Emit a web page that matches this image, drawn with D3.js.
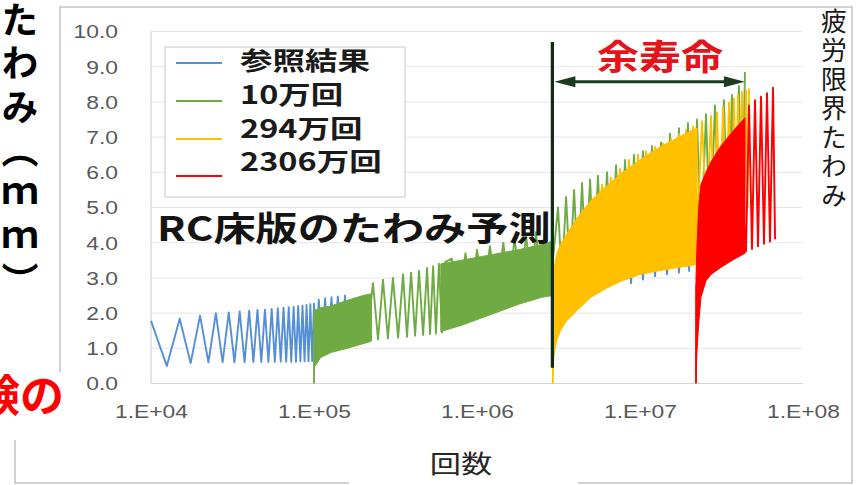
<!DOCTYPE html>
<html><head><meta charset="utf-8">
<script src="https://cdn.jsdelivr.net/npm/d3@7/dist/d3.min.js"></script>
<style>html,body{margin:0;padding:0;background:#fff}svg{display:block}</style>
</head><body>
<svg id="chart" width="856" height="485"></svg>
<script>
// ---------------- data ----------------
const xTicks = [1e4, 1e5, 1e6, 1e7, 1e8];
const xTickLabels = ["1.E+04", "1.E+05", "1.E+06", "1.E+07", "1.E+08"];
const yTicks = [0, 1, 2, 3, 4, 5, 6, 7, 8, 9, 10];
const yTickLabels = ["0.0","1.0","2.0","3.0","4.0","5.0","6.0","7.0","8.0","9.0","10.0"];
const seriesNames = ["参照結果", "10万回", "294万回", "2306万回"];
const xTitle = "回数";
const yTitle = "たわみ（ｍｍ）";
const limitTitle = "疲労限界たわみ";

// 参照結果 (reference result)
const refN = [10000,12500,15000,17500,20000,22500,25000,27500,30000,32500,35000,37500,40000,42500,45000,47500,50000,52500,55000,57500,60000,62500,65000,67500,70000,72500,75000,77500,80000,82500,85000,87500,90000,92500,95000,97500,100000,
  103000,107000,112000,117000,122000,128000,134000,140000,147000,155000,162000];
const refV = [1.78,0.50,1.84,0.58,1.93,0.60,2.00,0.60,2.02,0.60,2.05,0.60,2.07,0.61,2.09,0.61,2.10,0.61,2.12,0.61,2.14,0.62,2.15,0.62,2.17,0.62,2.18,0.62,2.20,0.63,2.21,0.63,2.23,0.63,2.25,0.64,2.27,
  1.0,2.38,1.05,2.42,1.1,2.45,1.1,2.47,1.15,2.5,1.2];
const refTipN = [8.2e6,8.81e6,9.59e6,1.043e7,1.135e7,1.236e7,1.345e7,1.465e7,1.593e7,1.734e7,1.888e7,2.0e7,2.114e7];
const refTipV = [5.0,2.85,5.2,2.95,5.3,3.05,5.4,3.1,5.5,3.15,5.6,3.2,5.7];

// 10万回
const g10BandN = [1.0e5,1.1e5,1.27e5,1.57e5,2.0e5,2.25e5];
const g10BandLo = [0.45,0.74,0.88,0.99,1.13,1.2];
const g10BandHi = [2.07,2.15,2.2,2.35,2.5,2.55];
const g10Band2N = [6.0e5,8.0e5,1.2e6,1.8e6,2.5e6,2.93e6];
const g10Band2Lo = [1.48,1.65,1.95,2.25,2.45,2.5];
const g10Band2Hi = [3.4,3.5,3.65,3.8,3.95,4.05];
const g10N = [1.0e5,1.005e5,2.11e5,2.30e5,2.47e5,2.65e5,2.84e5,3.05e5,3.28e5,3.52e5,3.72e5,3.94e5,4.17e5,4.41e5,4.67e5,4.94e5,5.15e5,5.38e5,5.6e5,5.84e5,6.1e5,6.36e5,
  7.0e5,7.7e5,8.5e5,9.2e5,1.0e6,1.1e6,1.2e6,1.32e6,1.45e6,1.57e6,1.7e6,1.85e6,2.0e6,2.15e6,2.3e6,2.45e6,2.6e6,2.8e6,
  3.14e6,3.32e6,3.52e6,3.72e6,3.94e6,4.17e6,4.41e6,4.66e6,4.94e6,5.22e6,5.52e6,5.85e6,6.28e6,6.64e6,7.13e6,7.54e6,8.10e6,8.56e6,9.19e6,9.72e6,
  1.043e7,1.104e7,1.185e7,1.254e7,1.345e7,1.424e7,1.528e7,1.617e7,1.734e7,1.835e7,1.968e7,2.084e7,2.239e7,2.366e7,2.541e7,2.688e7,2.884e7,3.053e7,3.273e7,3.466e7,3.664e7,3.826e7,4.046e7,4.225e7,4.404e7];
const g10V = [0,2.05,1.2,2.85,1.25,2.95,1.28,3.0,1.3,3.1,1.33,3.15,1.36,3.2,1.38,3.28,1.4,3.33,1.42,3.4,1.45,3.45,
  3.55,2.3,3.7,2.4,3.8,2.5,3.9,2.6,4.0,2.7,4.1,2.8,4.2,2.9,4.3,3.0,4.4,2.6,
  5.0,3.0,5.3,3.1,5.5,3.2,5.7,3.3,5.8,3.35,5.9,3.4,6.0,3.5,6.2,3.55,6.35,3.6,6.5,3.65,
  6.6,3.7,6.75,3.75,6.85,3.8,7.1,3.85,7.25,3.9,7.4,3.95,7.5,4.0,7.65,4.05,7.9,4.1,8.05,4.15,8.2,4.2,8.45,4.25,8.85];

// 294万回
const o294BandN = [2.92e6,2.96e6,3.0e6,3.1e6,3.25e6,3.5e6,4.2e6,5.0e6,6.2e6,7.6e6,1.0e7,1.3e7,1.73e7,2.1e7,2.24e7];
const o294BandLo = [0.3,0.7,0.95,1.25,1.5,1.75,2.12,2.45,2.7,2.9,3.1,3.2,3.3,3.35,3.4];
const o294BandHi = [2.8,3.2,3.4,3.7,3.95,4.2,4.75,5.2,5.6,5.95,6.35,6.7,7.0,7.2,7.25];
const o294N = [2.92e6,2.94e6,5.4e6,5.85e6,6.23e6,6.64e6,7.07e6,7.54e6,8.03e6,8.56e6,9.12e6,9.72e6,1.029e7,1.088e7,1.16e7,1.236e7,1.308e7,1.384e7,1.464e7,1.55e7,1.64e7,1.735e7,1.823e7,1.915e7,2.012e7,2.115e7,
  2.253e7,2.401e7,2.559e7,2.727e7,2.844e7,2.968e7,3.097e7,3.23e7,3.371e7,3.516e7,3.641e7,3.773e7,3.882e7,3.992e7,4.107e7,4.225e7,4.345e7,4.47e7,4.566e7,4.665e7];
const o294V = [0,2.8,3.8,5.65,3.8,5.85,3.9,6.1,4.0,6.35,4.1,6.5,4.2,6.6,4.25,6.72,4.3,6.82,4.35,6.95,4.4,7.08,4.45,7.2,4.5,7.3,
  4.55,7.45,4.6,7.6,4.65,7.7,4.7,7.85,4.75,7.98,4.8,8.1,4.85,8.2,4.9,8.28,4.95,8.33,5.0,8.38];

// 2306万回
const r2306BandN = [2.206e7,2.237e7,2.269e7,2.301e7,2.366e7,2.541e7,2.727e7,3.14e7,3.773e7,4.408e7];
const r2306BandLo = [0.3,0.9,1.4,1.8,2.45,2.92,3.1,3.3,3.53,3.7];
const r2306BandHi = [3.0,3.9,4.6,5.1,5.65,6.0,6.3,6.75,7.2,7.55];
const r2306N = [2.206e7,2.215e7,4.3e7,4.47e7,4.665e7,4.865e7,5.076e7,5.296e7,5.525e7,5.763e7,6.013e7,6.273e7,6.546e7,6.74e7];
const r2306V = [0,2.8,5.0,3.75,7.9,3.82,8.05,3.9,8.15,3.97,8.25,4.03,8.4,4.1];

// annotations
const nowN = 2.9e6;          // 294万回 marker line
const nowLineV = [0.45, 9.7];
const lifeEndN = 4.4e7;      // fatigue-limit reach
const fatigueV = 8.57;
const lifeLabel = "余寿命";
const plotLabel = "RC床版のたわみ予測";
const sideLabel = "験の";

// ---------------- styles ----------------
const colors = ["#5590d6", "#6fab42", "#ffc000", "#ff0000"];
const SX = 1.27;  // horizontal stretch of the original picture
const CJK = "'Noto Sans CJK JP','Noto Sans CJK SC',sans-serif";
const LAT = "'Liberation Sans',Arial,sans-serif";

const svg = d3.select("#chart");
svg.append("rect").attr("width",856).attr("height",485).attr("fill","#fff");

const x = d3.scaleLog().domain([1e4,1e8]).range([151,803]);
const y = d3.scaleLinear().domain([0,10]).range([383.5,31.5]);

// outer frame
const frame = svg.append("g").attr("stroke","#c4c4c4").attr("stroke-width",1.5).attr("fill","none");
frame.append("path").attr("d","M60,372 V7 H852 V483 H578 M349,483 H15 V440");

// gridlines
svg.append("g").selectAll("line").data(yTicks.slice(1)).join("line")
  .attr("x1",x(1e4)).attr("x2",x(1e8)).attr("y1",d=>y(d)).attr("y2",d=>y(d))
  .attr("stroke","#e6e6e6").attr("stroke-width",1);
// axis lines
svg.append("line").attr("x1",x(1e4)).attr("x2",x(1e4)).attr("y1",y(10)).attr("y2",y(0)).attr("stroke","#d4d4d4").attr("stroke-width",1.2);
svg.append("line").attr("x1",x(1e4)).attr("x2",x(1e8)).attr("y1",y(0)).attr("y2",y(0)).attr("stroke","#d4d4d4").attr("stroke-width",1.2);

// axes labels via d3 axes
const xAxis = svg.append("g").attr("transform",`translate(0,${y(0)+28})`)
  .call(d3.axisBottom(x).tickValues(xTicks).tickFormat((d,i)=>xTickLabels[i]).tickSize(0));
xAxis.select(".domain").remove();
xAxis.selectAll("text").attr("font-family",LAT).attr("font-size",18).attr("fill","#595959")
  .attr("y",0).attr("dy","0.35em").attr("transform",`scale(${SX},1)`);

const yAxis = svg.append("g").attr("transform","translate(118,0)")
  .call(d3.axisLeft(y).tickValues(yTicks).tickFormat((d,i)=>yTickLabels[i]).tickSize(0));
yAxis.select(".domain").remove();
yAxis.selectAll("text").attr("font-family",LAT).attr("font-size",18).attr("fill","#595959")
  .attr("x",0).attr("dy","0.35em").attr("transform",`scale(${SX},1)`);

// series
const zip = (a,b) => a.map((d,i)=>[d,b[i]]);
const line = d3.line().x(d=>x(d[0])).y(d=>y(d[1]));
const area = d3.area().x(d=>x(d[0])).y0(d=>y(d[1])).y1(d=>y(d[2]));
const zip3 = (a,b,c) => a.map((d,i)=>[d,b[i],c[i]]);
const plot = svg.append("g");
function drawLine(N,V,color){
  plot.append("path").attr("d",line(zip(N,V))).attr("fill","none").attr("stroke",color)
    .attr("stroke-width",1.9).attr("stroke-linejoin","round");
}
function drawBand(N,lo,hi,color){
  plot.append("path").attr("d",area(zip3(N,lo,hi))).attr("fill",color).attr("stroke",color).attr("stroke-width",1);
}
drawLine(refN,refV,colors[0]);
drawLine(refTipN,refTipV,colors[0]);
drawBand(g10BandN,g10BandLo,g10BandHi,colors[1]);
drawBand(g10Band2N,g10Band2Lo,g10Band2Hi,colors[1]);
drawLine(g10N,g10V,colors[1]);
drawBand(o294BandN,o294BandLo,o294BandHi,colors[2]);
drawLine(o294N,o294V,colors[2]);
drawBand(r2306BandN,r2306BandLo,r2306BandHi,colors[3]);
drawLine(r2306N,r2306V,colors[3]);

// marker line + remaining-life arrow
const dark = "#0f2a12";
svg.append("line").attr("x1",x(nowN)).attr("x2",x(nowN)).attr("y1",y(nowLineV[0])).attr("y2",y(nowLineV[1]))
  .attr("stroke",dark).attr("stroke-width",3.2);
const ay = y(fatigueV), ax1 = x(nowN)+2, ax2 = x(lifeEndN);
svg.append("line").attr("x1",ax1+10).attr("x2",ax2-10).attr("y1",ay).attr("y2",ay).attr("stroke","#1b3a1f").attr("stroke-width",3);
svg.append("path").attr("d",`M${ax1},${ay} L${ax1+21},${ay-5.5} L${ax1+21},${ay+5.5} Z`).attr("fill","#1b3a1f");
svg.append("path").attr("d",`M${ax2},${ay} L${ax2-21},${ay-5.5} L${ax2-21},${ay+5.5} Z`).attr("fill","#1b3a1f");

function stext(x0,y0,str,o){
  return svg.append("text").attr("transform",`translate(${x0},${y0}) scale(${o.sx||1},1)`)
    .attr("font-family",o.font||CJK).attr("font-size",o.size).attr("font-weight",o.weight||400)
    .attr("fill",o.fill||"#111").attr("text-anchor",o.anchor||"start")
    .attr("dominant-baseline",o.baseline||"auto").text(str);
}
stext(660,69.5,lifeLabel,{size:35,weight:700,fill:"#e3141c",anchor:"middle",sx:1.2});
stext(157,240.5,plotLabel,{size:34,weight:700,fill:"#141414",sx:1.24});

// legend
svg.append("rect").attr("x",165).attr("y",47).attr("width",240).attr("height",150)
  .attr("fill","#fff").attr("stroke","#d9d9d9").attr("stroke-width",1.5);
const legLineY = [63,101,139,176], legTextY = [70,104,138,171];
seriesNames.forEach((s,i)=>{
  svg.append("line").attr("x1",176).attr("x2",222).attr("y1",legLineY[i]).attr("y2",legLineY[i])
    .attr("stroke",colors[i]).attr("stroke-width",2.2);
  stext(240,legTextY[i],s,{size:25,weight:700,fill:"#1a1a1a",sx:1.3});
});

// axis title
stext(461,473,xTitle,{size:25,weight:400,fill:"#262626",anchor:"middle",sx:1.25});

// vertical titles (one text each, vertical writing mode)
svg.append("text").attr("x",20).attr("y",1)
  .attr("font-family",CJK).attr("font-size",37).attr("font-weight",700).attr("fill","#000")
  .style("writing-mode","vertical-rl").attr("letter-spacing",6.5).text(yTitle);
svg.append("text").attr("x",834).attr("y",8)
  .attr("font-family",CJK).attr("font-size",26).attr("font-weight",400).attr("fill","#1a1a1a")
  .style("writing-mode","vertical-rl").attr("letter-spacing",3).text(limitTitle);

// clipped red caption at bottom-left (cut by the left edge, as in the source)
stext(64,412,sideLabel,{size:44,weight:700,fill:"#ff0000",anchor:"end"});
</script>
</body></html>
